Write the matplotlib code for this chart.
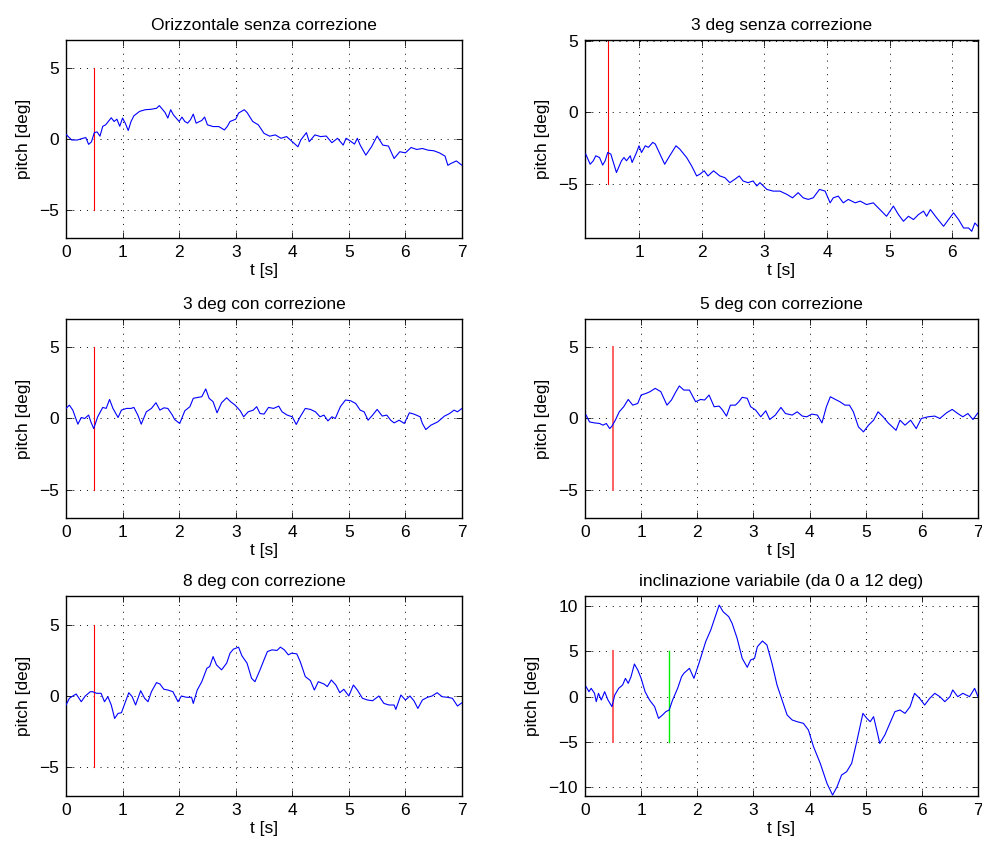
import numpy as np
import matplotlib
matplotlib.use("Agg")
import matplotlib.pyplot as plt

plt.rcParams['font.family'] = ['Liberation Sans', 'DejaVu Sans']

# ---------------- data ----------------
titles = ["Orizzontale senza correzione", "3 deg senza correzione",
          "3 deg con correzione", "5 deg con correzione",
          "8 deg con correzione", "inclinazione variabile (da 0 a 12 deg)"]

t1 = [0.0, 0.1, 0.2, 0.3, 0.35, 0.4, 0.45, 0.5, 0.55, 0.6, 0.65, 0.7, 0.8, 0.85, 0.9, 0.95,
      1.0, 1.05, 1.1, 1.15, 1.2, 1.3, 1.4, 1.5, 1.6, 1.65, 1.7, 1.75, 1.8, 1.85, 1.9, 2.0,
      2.05, 2.1, 2.15, 2.2, 2.25, 2.3, 2.4, 2.45, 2.5, 2.6, 2.7, 2.8, 2.85, 2.9, 3.0, 3.05,
      3.1, 3.15, 3.2, 3.3, 3.4, 3.5, 3.6, 3.7, 3.8, 3.9, 4.0, 4.1, 4.15, 4.25, 4.3, 4.4,
      4.5, 4.6, 4.7, 4.8, 4.9, 4.95, 5.0, 5.1, 5.15, 5.2, 5.3, 5.4, 5.5, 5.6, 5.7, 5.8,
      5.9, 6.0, 6.1, 6.2, 6.3, 6.4, 6.5, 6.6, 6.7, 6.75, 6.8, 6.9, 7.0]
y1 = [0.33, -0.07, -0.07, 0.05, 0.1, -0.38, -0.2, 0.45, 0.5, 0.2, 0.9, 1.0, 1.5, 1.24, 1.4, 0.9,
      1.48, 1.1, 0.6, 1.24, 1.64, 1.95, 2.07, 2.1, 2.17, 2.36, 2.12, 1.88, 1.48, 2.07, 1.7, 1.24,
      1.55, 1.24, 1.12, 1.36, 1.76, 1.12, 1.31, 1.55, 1.0, 0.88, 0.88, 0.64, 0.88, 1.24, 1.4, 1.83,
      1.95, 2.07, 1.88, 1.24, 1.0, 0.4, 0.2, 0.29, 0.05, 0.17, -0.19, -0.55, -0.07, 0.45, -0.19, 0.29,
      0.17, 0.21, -0.26, 0.05, -0.43, 0.05, -0.07, -0.36, 0.05, -0.43, -1.14, -0.55, 0.21, -0.43, -0.5, -1.38,
      -0.9, -0.98, -0.6, -0.74, -0.67, -0.79, -0.83, -0.98, -1.21, -1.86, -1.74, -1.55, -1.86]

t2 = [0.15, 0.22, 0.27, 0.31, 0.37, 0.42, 0.46, 0.5, 0.55, 0.64, 0.72, 0.76, 0.8, 0.86, 0.89, 0.96,
      1.0, 1.04, 1.1, 1.15, 1.22, 1.26, 1.31, 1.41, 1.49, 1.59, 1.65, 1.76, 1.84, 1.92, 1.97, 2.04,
      2.1, 2.19, 2.29, 2.37, 2.45, 2.53, 2.6, 2.66, 2.74, 2.82, 2.88, 2.93, 3.04, 3.14, 3.25, 3.36,
      3.45, 3.54, 3.62, 3.7, 3.78, 3.88, 3.97, 4.05, 4.1, 4.18, 4.26, 4.34, 4.45, 4.53, 4.63, 4.74,
      4.79, 4.87, 4.95, 5.06, 5.14, 5.22, 5.3, 5.38, 5.46, 5.54, 5.59, 5.65, 5.75, 5.86, 5.94, 6.02,
      6.1, 6.18, 6.26, 6.31, 6.36, 6.41]
y2 = [-2.93, -3.64, -3.4, -3.05, -3.17, -3.7, -3.4, -2.82, -2.93, -4.22, -3.4, -3.17, -3.4, -3.05, -3.52, -2.82,
      -2.35, -2.82, -2.35, -2.46, -2.11, -2.23, -2.7, -3.64, -3.05, -2.35, -2.58, -3.17, -3.76, -4.46, -4.34, -4.1,
      -4.46, -4.1, -4.46, -4.58, -4.93, -4.69, -4.46, -4.81, -4.93, -4.81, -5.16, -4.93, -5.4, -5.52, -5.52, -5.75,
      -5.99, -5.63, -5.99, -6.1, -5.99, -5.4, -5.52, -6.34, -5.99, -5.87, -6.34, -6.1, -6.34, -6.22, -6.46, -6.34,
      -6.57, -6.92, -7.28, -6.57, -7.16, -7.63, -7.28, -7.51, -7.16, -6.92, -7.28, -6.81, -7.39, -7.98, -7.51, -7.04,
      -7.51, -8.1, -8.1, -8.33, -7.75, -7.98]

t3 = [0.0, 0.06, 0.12, 0.21, 0.27, 0.33, 0.4, 0.44, 0.49, 0.56, 0.65, 0.71, 0.77, 0.83, 0.92, 0.98,
      1.07, 1.15, 1.2, 1.27, 1.33, 1.42, 1.51, 1.59, 1.66, 1.73, 1.8, 1.88, 1.92, 2.01, 2.1, 2.19,
      2.25, 2.34, 2.4, 2.47, 2.53, 2.6, 2.67, 2.75, 2.84, 2.91, 2.99, 3.08, 3.14, 3.22, 3.31, 3.37,
      3.43, 3.5, 3.58, 3.67, 3.76, 3.82, 3.91, 4.0, 4.07, 4.14, 4.23, 4.32, 4.41, 4.49, 4.56, 4.63,
      4.7, 4.76, 4.85, 4.94, 5.03, 5.12, 5.2, 5.27, 5.34, 5.42, 5.5, 5.59, 5.67, 5.74, 5.8, 5.89,
      5.98, 6.07, 6.15, 6.26, 6.3, 6.36, 6.45, 6.57, 6.69, 6.78, 6.86, 6.92, 7.0]
y3 = [0.71, 0.94, 0.59, -0.4, 0.07, 0.0, 0.24, -0.24, -0.71, 0.12, 0.78, 0.71, 1.34, 0.71, 0.07, 0.59,
      0.71, 0.71, 0.78, 0.24, -0.4, 0.47, 0.71, 1.11, 0.59, 0.75, 0.71, 0.24, -0.07, -0.35, 0.54, 0.83,
      1.42, 1.49, 1.53, 2.08, 1.42, 1.18, 0.4, 1.11, 1.46, 1.18, 0.94, 0.54, 0.12, 0.47, 0.59, 0.83,
      0.35, 0.31, 0.78, 0.71, 0.87, 0.47, 0.24, 0.12, -0.42, 0.12, 0.71, 0.64, 0.47, 0.12, 0.24, -0.17,
      0.12, 0.0, 0.83, 1.3, 1.25, 1.06, 0.59, 0.47, -0.12, 0.24, 0.64, 0.17, 0.24, -0.12, -0.31, -0.12,
      -0.35, 0.4, 0.31, 0.12, -0.35, -0.78, -0.47, -0.24, 0.17, 0.35, 0.59, 0.47, 0.71]

t4 = [0.02, 0.08, 0.17, 0.26, 0.32, 0.38, 0.44, 0.48, 0.54, 0.61, 0.69, 0.77, 0.85, 0.94, 1.0, 1.09,
      1.16, 1.25, 1.35, 1.46, 1.54, 1.62, 1.68, 1.76, 1.86, 1.97, 2.06, 2.13, 2.21, 2.3, 2.39, 2.45,
      2.52, 2.59, 2.68, 2.74, 2.8, 2.89, 2.95, 3.04, 3.13, 3.22, 3.29, 3.39, 3.49, 3.57, 3.69, 3.78,
      3.87, 3.95, 4.04, 4.14, 4.22, 4.3, 4.37, 4.46, 4.54, 4.63, 4.71, 4.78, 4.87, 4.96, 5.05, 5.14,
      5.22, 5.31, 5.4, 5.54, 5.61, 5.7, 5.8, 5.9, 5.99, 6.11, 6.23, 6.32, 6.44, 6.54, 6.64, 6.73,
      6.82, 6.91, 7.0]
y4 = [0.24, -0.24, -0.31, -0.35, -0.47, -0.35, -0.71, -0.54, -0.12, 0.47, 0.83, 1.34, 0.94, 1.06, 1.65, 1.77,
      1.89, 2.12, 1.89, 0.94, 1.3, 1.89, 2.29, 2.0, 2.0, 1.18, 1.34, 1.3, 1.65, 0.83, 0.87, 0.59,
      0.17, 0.94, 0.94, 1.18, 1.49, 1.42, 0.83, 0.59, 0.12, 0.54, -0.07, 0.24, 0.78, 0.35, 0.24, 0.47,
      0.17, 0.12, 0.31, 0.24, -0.31, 0.83, 1.53, 1.34, 1.18, 0.94, 0.94, 0.47, -0.59, -0.94, -0.47, -0.12,
      0.47, 0.12, -0.31, -0.83, -0.12, -0.47, -0.12, -0.71, 0.0, 0.12, 0.17, 0.0, 0.4, 0.64, 0.35, 0.12,
      0.35, -0.07, 0.4]

t5 = [0.0, 0.06, 0.12, 0.18, 0.27, 0.34, 0.43, 0.47, 0.54, 0.62, 0.68, 0.74, 0.8, 0.86, 0.92, 0.98,
      1.04, 1.11, 1.17, 1.23, 1.32, 1.39, 1.45, 1.51, 1.6, 1.66, 1.73, 1.8, 1.89, 1.98, 2.04, 2.13,
      2.22, 2.25, 2.32, 2.4, 2.49, 2.54, 2.6, 2.66, 2.75, 2.84, 2.9, 2.96, 3.05, 3.11, 3.2, 3.28,
      3.34, 3.43, 3.5, 3.56, 3.64, 3.73, 3.79, 3.86, 3.93, 3.99, 4.08, 4.14, 4.23, 4.32, 4.39, 4.46,
      4.56, 4.62, 4.69, 4.77, 4.84, 4.91, 5.0, 5.08, 5.15, 5.24, 5.33, 5.42, 5.53, 5.62, 5.71, 5.8,
      5.83, 5.92, 6.0, 6.08, 6.15, 6.22, 6.3, 6.39, 6.47, 6.56, 6.65, 6.74, 6.83, 6.92, 7.0]
y5 = [-0.63, -0.16, 0.0, 0.14, -0.4, 0.0, 0.3, 0.3, 0.19, 0.19, -0.4, -0.05, -0.63, -1.57, -1.22, -1.17,
      -0.52, 0.23, -0.05, -0.63, 0.37, -0.16, -0.4, 0.3, 0.94, 0.84, 0.47, 0.42, 0.3, -0.4, 0.0, -0.09,
      -0.09, -0.52, 0.42, 1.0, 1.94, 2.06, 2.76, 2.18, 1.83, 2.3, 3.0, 3.28, 3.42, 2.81, 2.3, 1.24,
      1.0, 1.83, 2.53, 3.11, 3.23, 3.19, 3.42, 3.23, 2.88, 3.0, 2.95, 2.41, 1.36, 1.08, 0.42, 1.0,
      0.84, 0.66, 1.12, 0.77, 0.23, 0.47, 0.0, 0.77, 0.42, -0.16, -0.28, -0.33, 0.0, -0.52, -0.63, -0.63,
      -0.94, 0.07, -0.28, 0.0, -0.33, -0.87, -0.28, -0.09, 0.0, 0.23, -0.05, -0.09, -0.16, -0.7, -0.47]

t6 = [0.02, 0.07, 0.11, 0.17, 0.2, 0.24, 0.29, 0.35, 0.41, 0.48, 0.53, 0.6, 0.67, 0.72, 0.77, 0.82,
      0.88, 0.94, 1.0, 1.07, 1.15, 1.24, 1.31, 1.38, 1.44, 1.5, 1.56, 1.65, 1.72, 1.76, 1.86, 1.94,
      2.03, 2.15, 2.24, 2.31, 2.39, 2.46, 2.56, 2.62, 2.71, 2.8, 2.89, 2.95, 3.02, 3.07, 3.16, 3.24,
      3.33, 3.42, 3.51, 3.6, 3.69, 3.78, 3.89, 3.98, 4.07, 4.19, 4.31, 4.41, 4.49, 4.57, 4.66, 4.75,
      4.84, 4.95, 5.02, 5.08, 5.14, 5.21, 5.25, 5.34, 5.43, 5.52, 5.61, 5.7, 5.79, 5.87, 5.96, 6.05,
      6.14, 6.23, 6.32, 6.41, 6.5, 6.55, 6.64, 6.73, 6.85, 6.94, 7.0]
y6 = [1.1, 0.55, 0.92, 0.37, -0.55, 0.37, -0.37, 0.55, -0.37, -1.1, 0.18, 0.92, 1.29, 2.02, 1.47, 2.2,
      3.6, 2.94, 2.02, 0.55, -0.37, -1.1, -2.39, -2.02, -1.65, -1.47, -0.37, 0.92, 2.2, 2.57, 3.13, 2.02,
      3.68, 6.07, 7.35, 8.64, 10.1, 9.37, 8.82, 8.09, 6.43, 4.23, 3.24, 4.04, 4.23, 5.51, 6.14, 5.7,
      3.68, 1.29, -0.37, -2.02, -2.57, -2.76, -2.94, -3.68, -5.51, -7.35, -9.56, -10.85, -9.93, -8.64, -8.27, -7.35,
      -4.96, -1.84, -2.39, -2.76, -2.2, -4.04, -5.15, -4.23, -2.94, -1.65, -1.47, -1.84, -1.1, 0.37, -0.18, -0.92,
      -0.18, 0.37, 0.0, -0.55, 0.0, 0.74, 0.0, 0.37, 0.0, 0.92, 0.0]

marker_t = [0.5, 1.5]           # vertical marker times
marker_span = [-5, 5]           # vertical marker extent

series = [(t1, y1), (t2, y2), (t3, y3), (t4, y4), (t5, y5), (t6, y6)]
xlims = [(0, 7), (0.138, 6.41), (0, 7), (0, 7), (0, 7), (0, 7)]
ylims = [(-7, 7), (-8.8, 5.05), (-7, 7), (-7, 7), (-7, 7), (-10.95, 11.1)]
yticks = [[-5, 0, 5], [-5, 0, 5], [-5, 0, 5], [-5, 0, 5], [-5, 0, 5], [-10, -5, 0, 5, 10]]

# ---------------- layout ----------------
W, H = 982, 847
fig = plt.figure(figsize=(W / 100, H / 100), dpi=100)
cols = [(66, 462), (585, 978)]
rows = [(40, 238), (319, 518), (596, 796)]

fs = 12.5
for i, (tt, yy) in enumerate(series):
    r, c = divmod(i, 2)
    l, rr = cols[c]
    top, bot = rows[r]
    ax = fig.add_axes([l / W, 1 - bot / H, (rr - l) / W, (bot - top) / H])
    ax.plot(tt, yy, color='#0000ff', lw=0.8, zorder=3)
    if i in (3, 5):
        ax.plot([marker_t[0]] * 2, marker_span, color='#ff6060', lw=1.4, zorder=2)
    else:
        ax.plot([marker_t[0]] * 2, marker_span, color='#ff0000', lw=0.8, zorder=2)
    if i == 5:
        ax.plot([marker_t[1]] * 2, marker_span, color='#00ee00', lw=1.0, zorder=2)
    ax.set_xlim(*xlims[i])
    ax.set_ylim(*ylims[i])
    ax.set_yticks(yticks[i])
    xt = [v for v in range(0, 8) if xlims[i][0] <= v <= xlims[i][1]]
    ax.set_xticks(xt)
    ax.set_yticklabels([str(v).replace('-', '\u2212') for v in yticks[i]])
    ax.grid(True, color='black', linestyle=(0, (1, 6)), lw=0.7)
    ax.tick_params(direction='in', top=True, right=True, length=4, width=0.6,
                   labelsize=fs, pad=5)
    for s in ax.spines.values():
        s.set_linewidth(1.0)
    ax.set_title(titles[i], fontsize=fs, pad=7)
    ax.set_xlabel('t [s]', fontsize=fs, labelpad=2)
    ax.set_ylabel('pitch [deg]', fontsize=fs, labelpad=6)

fig.savefig('out.png', dpi=100)
